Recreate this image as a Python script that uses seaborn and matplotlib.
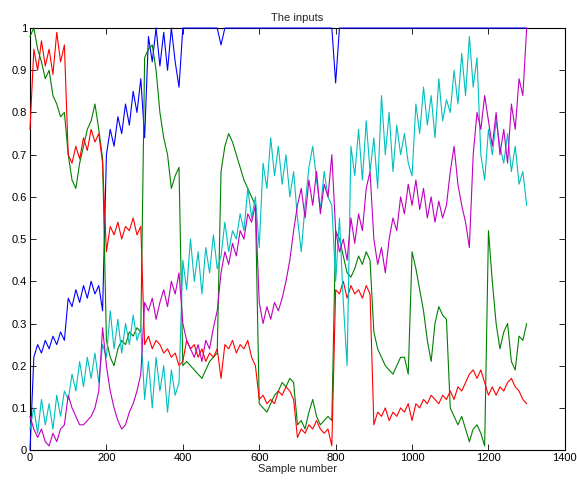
import matplotlib
matplotlib.use("Agg")
import matplotlib.pyplot as plt
import numpy as np
import pandas as pd
import seaborn as sns

sns.set_style("ticks")
plt.rcParams["font.family"] = ["Liberation Sans", "DejaVu Sans"]

# sample number, read every 10 samples
samples = list(range(0, 1310, 10))

input1 = [  # blue
    0.00, 0.22, 0.25, 0.23, 0.26, 0.24, 0.27, 0.25, 0.28, 0.26,
    0.36, 0.34, 0.38, 0.35, 0.39, 0.36, 0.40, 0.37, 0.39, 0.33,
    0.70, 0.76, 0.72, 0.79, 0.75, 0.82, 0.77, 0.85, 0.80, 0.88,
    0.74, 0.98, 0.92, 1.00, 0.91, 0.99, 0.90, 1.00, 0.92, 0.86,
    1.00, 1.00, 1.00, 1.00, 1.00, 1.00, 1.00, 1.00, 1.00, 1.00,
    0.96, 1.00, 1.00, 1.00, 1.00, 1.00, 1.00, 1.00, 1.00, 1.00,
    1.00, 1.00, 1.00, 1.00, 1.00, 1.00, 1.00, 1.00, 1.00, 1.00,
    1.00, 1.00, 1.00, 1.00, 1.00, 1.00, 1.00, 1.00, 1.00, 1.00,
    0.87, 1.00, 1.00, 1.00, 1.00, 1.00, 1.00, 1.00, 1.00, 1.00,
    1.00, 1.00, 1.00, 1.00, 1.00, 1.00, 1.00, 1.00, 1.00, 1.00,
    1.00, 1.00, 1.00, 1.00, 1.00, 1.00, 1.00, 1.00, 1.00, 1.00,
    1.00, 1.00, 1.00, 1.00, 1.00, 1.00, 1.00, 1.00, 1.00, 1.00,
    1.00, 1.00, 1.00, 1.00, 1.00, 1.00, 1.00, 1.00, 1.00, 1.00, 1.00,
]
input2 = [  # green
    0.98, 1.00, 0.95, 0.92, 0.88, 0.90, 0.84, 0.82, 0.79, 0.80,
    0.70, 0.64, 0.62, 0.68, 0.72, 0.76, 0.78, 0.82, 0.76, 0.69,
    0.26, 0.22, 0.20, 0.24, 0.26, 0.25, 0.28, 0.27, 0.29, 0.28,
    0.93, 0.95, 0.96, 0.90, 0.80, 0.74, 0.70, 0.62, 0.65, 0.67,
    0.20, 0.21, 0.20, 0.19, 0.18, 0.17, 0.19, 0.21, 0.22, 0.23,
    0.66, 0.72, 0.75, 0.73, 0.70, 0.67, 0.64, 0.62, 0.60, 0.58,
    0.11, 0.10, 0.09, 0.11, 0.13, 0.14, 0.16, 0.15, 0.17, 0.16,
    0.06, 0.07, 0.05, 0.09, 0.12, 0.08, 0.06, 0.07, 0.08, 0.07,
    0.52, 0.50, 0.46, 0.42, 0.41, 0.43, 0.46, 0.44, 0.47, 0.45,
    0.28, 0.24, 0.22, 0.20, 0.19, 0.18, 0.20, 0.22, 0.22, 0.18,
    0.47, 0.43, 0.38, 0.33, 0.26, 0.21, 0.30, 0.34, 0.32, 0.31,
    0.10, 0.08, 0.06, 0.08, 0.05, 0.02, 0.05, 0.06, 0.04, 0.01,
    0.52, 0.40, 0.30, 0.24, 0.28, 0.30, 0.21, 0.19, 0.27, 0.26, 0.30,
]
input3 = [  # red
    0.76, 0.95, 0.90, 0.97, 0.91, 0.95, 0.89, 0.99, 0.92, 0.96,
    0.70, 0.68, 0.72, 0.69, 0.74, 0.71, 0.76, 0.73, 0.75, 0.68,
    0.47, 0.53, 0.51, 0.54, 0.50, 0.53, 0.52, 0.55, 0.51, 0.53,
    0.25, 0.27, 0.24, 0.26, 0.25, 0.23, 0.24, 0.22, 0.23, 0.20,
    0.21, 0.26, 0.24, 0.25, 0.22, 0.24, 0.21, 0.23, 0.22, 0.24,
    0.17, 0.25, 0.24, 0.26, 0.23, 0.25, 0.24, 0.26, 0.22, 0.20,
    0.12, 0.13, 0.11, 0.12, 0.11, 0.14, 0.13, 0.15, 0.14, 0.12,
    0.03, 0.05, 0.04, 0.06, 0.05, 0.07, 0.05, 0.04, 0.05, 0.01,
    0.38, 0.37, 0.40, 0.36, 0.39, 0.37, 0.38, 0.36, 0.39, 0.37,
    0.06, 0.09, 0.08, 0.10, 0.07, 0.09, 0.08, 0.10, 0.09, 0.11,
    0.07, 0.11, 0.10, 0.12, 0.11, 0.13, 0.12, 0.11, 0.13, 0.12,
    0.14, 0.12, 0.15, 0.14, 0.16, 0.18, 0.19, 0.17, 0.19, 0.16,
    0.13, 0.15, 0.13, 0.15, 0.14, 0.16, 0.17, 0.15, 0.14, 0.12, 0.11,
]
input4 = [  # cyan
    0.05, 0.10, 0.04, 0.12, 0.06, 0.11, 0.05, 0.13, 0.08, 0.14,
    0.12, 0.18, 0.14, 0.21, 0.15, 0.22, 0.17, 0.23, 0.16, 0.25,
    0.22, 0.33, 0.24, 0.31, 0.23, 0.30, 0.25, 0.32, 0.26, 0.29,
    0.12, 0.21, 0.10, 0.22, 0.14, 0.20, 0.09, 0.19, 0.13, 0.16,
    0.45, 0.38, 0.50, 0.40, 0.47, 0.37, 0.48, 0.42, 0.51, 0.43,
    0.46, 0.54, 0.47, 0.52, 0.50, 0.56, 0.52, 0.62, 0.55, 0.60,
    0.48, 0.68, 0.62, 0.74, 0.65, 0.72, 0.63, 0.70, 0.60, 0.66,
    0.55, 0.47, 0.58, 0.67, 0.72, 0.64, 0.57, 0.66, 0.60, 0.58,
    0.40, 0.55, 0.35, 0.20, 0.72, 0.65, 0.76, 0.64, 0.78, 0.66,
    0.74, 0.62, 0.84, 0.70, 0.80, 0.66, 0.77, 0.70, 0.75, 0.68,
    0.65, 0.82, 0.75, 0.86, 0.77, 0.84, 0.74, 0.88, 0.78, 0.83,
    0.80, 0.90, 0.82, 0.94, 0.84, 0.98, 0.86, 0.93, 0.70, 0.64,
    0.76, 0.70, 0.78, 0.72, 0.68, 0.75, 0.66, 0.72, 0.63, 0.66, 0.58,
]
input5 = [  # magenta
    0.08, 0.05, 0.03, 0.05, 0.02, 0.01, 0.04, 0.02, 0.05, 0.06,
    0.13, 0.10, 0.08, 0.06, 0.06, 0.07, 0.08, 0.10, 0.14, 0.29,
    0.20, 0.14, 0.10, 0.07, 0.05, 0.06, 0.09, 0.11, 0.14, 0.18,
    0.35, 0.33, 0.36, 0.31, 0.35, 0.38, 0.34, 0.40, 0.37, 0.42,
    0.30, 0.26, 0.24, 0.22, 0.25, 0.21, 0.26, 0.24, 0.29, 0.33,
    0.42, 0.47, 0.44, 0.49, 0.46, 0.52, 0.50, 0.56, 0.54, 0.58,
    0.35, 0.30, 0.34, 0.31, 0.35, 0.33, 0.36, 0.40, 0.45, 0.52,
    0.58, 0.62, 0.55, 0.64, 0.58, 0.66, 0.56, 0.63, 0.60, 0.70,
    0.52, 0.47, 0.50, 0.45, 0.55, 0.49, 0.56, 0.52, 0.62, 0.66,
    0.50, 0.44, 0.48, 0.42, 0.50, 0.55, 0.52, 0.60, 0.56, 0.63,
    0.58, 0.64, 0.57, 0.62, 0.55, 0.60, 0.54, 0.59, 0.55, 0.58,
    0.66, 0.72, 0.63, 0.58, 0.54, 0.48, 0.70, 0.80, 0.76, 0.84,
    0.78, 0.72, 0.80, 0.70, 0.76, 0.68, 0.82, 0.76, 0.88, 0.84, 1.00,
]

series_names = ["input1", "input2", "input3", "input4", "input5"]
series_colors = ["#0000ff", "#008000", "#ff0000", "#00bfbf", "#bf00bf"]

df = pd.DataFrame({"sample": samples, "input1": input1, "input2": input2,
                   "input3": input3, "input4": input4, "input5": input5})
long_df = df.melt(id_vars="sample", var_name="series", value_name="value")

fig = plt.figure(figsize=(5.77, 4.84), dpi=100)
ax = fig.add_axes([0.052, 0.070, 0.927, 0.872])
sns.lineplot(data=long_df, x="sample", y="value", hue="series",
             hue_order=series_names, palette=dict(zip(series_names, series_colors)),
             linewidth=0.8, legend=False, ax=ax)

# draw the traces over the frame, like the blue line sitting on the top edge
for line in ax.get_lines():
    line.set_clip_on(False)
    line.set_zorder(3)

ax.set_xlim(0, 1400)
ax.set_ylim(0, 1)
ax.set_xticks(np.arange(0, 1401, 200))
ax.set_yticks(np.arange(0, 1.01, 0.1))
ax.set_yticklabels(["0", "0.1", "0.2", "0.3", "0.4", "0.5", "0.6", "0.7", "0.8", "0.9", "1"])
ax.tick_params(direction="in", top=True, right=True, length=4, width=0.6,
               labelsize=8, pad=2, colors="black")
for spine in ax.spines.values():
    spine.set_visible(True)
    spine.set_linewidth(0.8)
    spine.set_color("black")
ax.set_xlabel("Sample number", fontsize=8, labelpad=1)
ax.set_ylabel("")
ax.set_title("The inputs", fontsize=8, pad=5)

fig.savefig("out.png", dpi=100)
